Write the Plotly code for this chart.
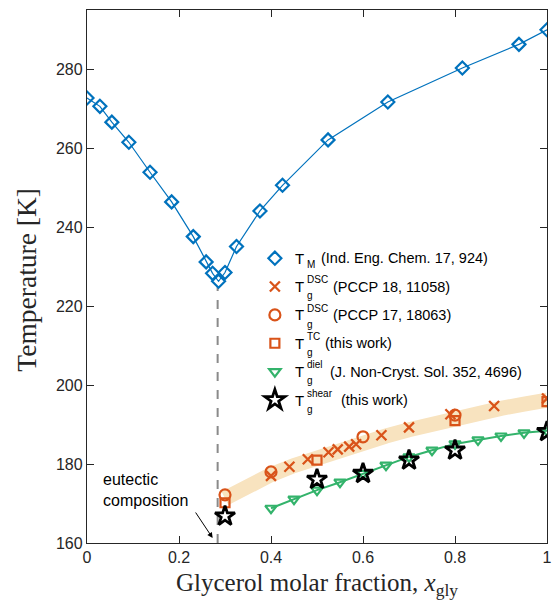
import plotly.graph_objects as go

# Melting temperature (liquidus) of the water-glycerol mixture
tm_x = [0.0, 0.028, 0.054, 0.091, 0.137, 0.184, 0.231, 0.259, 0.273, 0.286,
        0.300, 0.325, 0.376, 0.425, 0.524, 0.654, 0.816, 0.939, 1.0]
tm_T = [272.7, 270.6, 266.6, 261.5, 253.9, 246.4, 237.6, 231.2, 228.3, 226.3,
        228.5, 235.1, 244.1, 250.6, 262.1, 271.7, 280.3, 286.3, 290.0]

# Glass transition temperatures from different methods
dsc1_x = [0.40, 0.44, 0.48, 0.525, 0.545, 0.57, 0.585, 0.64, 0.70, 0.79, 0.885, 1.0]
dsc1_T = [177.0, 179.3, 181.2, 183.0, 183.7, 184.4, 185.0, 187.3, 189.3, 192.6, 194.7, 196.6]

dsc2_x = [0.30, 0.40, 0.60, 0.80]
dsc2_T = [172.2, 178.0, 186.9, 192.4]

tc_x = [0.30, 0.50, 0.80, 1.0]
tc_T = [170.2, 181.0, 191.0, 195.8]

diel_x = [0.40, 0.45, 0.50, 0.55, 0.60, 0.65, 0.70, 0.75, 0.80, 0.85, 0.90, 0.95, 1.0]
diel_T = [168.8, 171.1, 173.4, 175.4, 177.6, 179.7, 181.8, 183.5, 185.1, 186.1, 187.1, 187.9, 188.4]

shear_x = [0.30, 0.50, 0.60, 0.70, 0.80, 1.0]
shear_T = [166.8, 176.1, 177.6, 181.0, 183.5, 188.2]

# Guide band through the calorimetric Tg values
band_x = [0.30, 0.35, 0.40, 0.45, 0.50, 0.55, 0.60, 0.65, 0.70, 0.75, 0.80, 0.85, 0.90, 0.95, 1.0]
band_T = [171.3, 174.6, 177.3, 179.6, 181.7, 183.6, 185.4, 187.1, 188.7, 190.2, 191.6, 192.9, 194.1, 195.2, 196.2]

# Eutectic composition
eutectic_x = 0.284
eutectic_T = [160.0, 225.0]

x_ticks = [0, 0.2, 0.4, 0.6, 0.8, 1.0]
x_ticklabels = ["0", "0.2", "0.4", "0.6", "0.8", "1"]
y_ticks = [160, 180, 200, 220, 240, 260, 280]

BLUE = "#0072BD"
ORANGE = "#D95319"
GREEN = "#33B36B"
BAND = "#F8E3BF"
AXC = "#262626"

W, H = 555, 600
ML, MR, MT, MB = 87, 3, 10, 57
PW, PH = W - ML - MR, H - MT - MB


def fx(px):
    return (px - ML) / PW


def fy(py):
    return (H - MB - py) / PH


fig = go.Figure()

# connecting lines and guides (not in legend)
fig.add_trace(go.Scatter(x=band_x, y=band_T, mode="lines",
                         line=dict(color=BAND, width=15), showlegend=False,
                         hoverinfo="skip"))
fig.add_trace(go.Scatter(x=[eutectic_x, eutectic_x], y=eutectic_T, mode="lines",
                         line=dict(color="#8A8A8A", width=2, dash="dash"),
                         showlegend=False, hoverinfo="skip"))
fig.add_trace(go.Scatter(x=tm_x, y=tm_T, mode="lines", showlegend=False,
                         line=dict(color=BLUE, width=1.2), hoverinfo="skip"))
fig.add_trace(go.Scatter(x=diel_x, y=diel_T, mode="lines", showlegend=False,
                         line=dict(color=GREEN, width=2), hoverinfo="skip"))

# data markers
fig.add_trace(go.Scatter(x=tm_x, y=tm_T, mode="markers", name="",
                         marker=dict(symbol="diamond-open", size=10, color=BLUE,
                                     line=dict(color=BLUE, width=2.2))))
fig.add_trace(go.Scatter(x=dsc1_x, y=dsc1_T, mode="markers", name="",
                         marker=dict(symbol="x-thin-open", size=10, color=ORANGE,
                                     line=dict(color=ORANGE, width=2.3))))
fig.add_trace(go.Scatter(x=dsc2_x, y=dsc2_T, mode="markers", name="",
                         marker=dict(symbol="circle-open", size=11, color=ORANGE,
                                     line=dict(color=ORANGE, width=2.2))))
fig.add_trace(go.Scatter(x=tc_x, y=tc_T, mode="markers", name="",
                         marker=dict(symbol="square-open", size=9, color=ORANGE,
                                     line=dict(color=ORANGE, width=2.2))))
fig.add_trace(go.Scatter(x=diel_x, y=diel_T, mode="markers", name="",
                         marker=dict(symbol="triangle-down-open", size=10, color=GREEN,
                                     line=dict(color=GREEN, width=2.2))))
fig.add_trace(go.Scatter(x=shear_x, y=shear_T, mode="markers", name="",
                         marker=dict(symbol="star-open", size=15, color="black",
                                     line=dict(color="black", width=2.8))))

# Legend entries: "T" with stacked sub/superscripts followed by the source
rows_y = [258.3, 286.7, 315.0, 343.3, 371.7, 400.0]
legend_sup = ["", "DSC", "DSC", "TC", "diel", "shear"]
legend_sub = ["M", "g", "g", "g", "g", "g"]
legend_ref = ["(Ind. Eng. Chem. 17, 924)", "(PCCP 18, 11058)", "(PCCP 17, 18063)",
              "(this work)", "(J. Non-Cryst. Sol. 352, 4696)", "(this work)"]
ref_x = [321.7, 334.0, 334.0, 325.7, 330.7, 341.7]

annotations = []
LF = "Liberation Sans, Arial, Helvetica, sans-serif"
for i, ry in enumerate(rows_y):
    annotations.append(dict(xref="paper", yref="paper", x=fx(295.5), y=fy(ry),
                            xanchor="left", yanchor="middle", showarrow=False,
                            text="T", font=dict(family=LF, size=15, color="black")))
    if legend_sup[i]:
        annotations.append(dict(xref="paper", yref="paper", x=fx(307.5), y=fy(ry - 7),
                                xanchor="left", yanchor="middle", showarrow=False,
                                text=legend_sup[i], font=dict(family=LF, size=10, color="black")))
        sub_dy = 9
    else:
        sub_dy = 6
    annotations.append(dict(xref="paper", yref="paper", x=fx(307.5), y=fy(ry + sub_dy),
                            xanchor="left", yanchor="middle", showarrow=False,
                            text=legend_sub[i], font=dict(family=LF, size=10, color="black")))
    annotations.append(dict(xref="paper", yref="paper", x=fx(ref_x[i]), y=fy(ry),
                            xanchor="left", yanchor="middle", showarrow=False,
                            text=legend_ref[i], font=dict(family=LF, size=14.5, color="black")))

# Eutectic label and arrow
annotations.append(dict(xref="paper", yref="paper", x=fx(101), y=fy(490),
                        xanchor="left", yanchor="middle", showarrow=False, align="left",
                        text="eutectic<br>composition",
                        font=dict(family=LF, size=16, color="black")))
annotations.append(dict(xref="paper", yref="paper", x=fx(214), y=fy(538),
                        axref="pixel", ayref="pixel", ax=-18, ay=-27,
                        showarrow=True, arrowhead=2, arrowsize=1.1, arrowwidth=1,
                        arrowcolor="black", text=""))

# Axis titles
SERIF = "Liberation Serif, Times New Roman, serif"
annotations.append(dict(xref="paper", yref="paper", x=fx(319), y=fy(584),
                        xanchor="center", yanchor="middle", showarrow=False,
                        text="Glycerol molar fraction, <i>x</i><sub>gly</sub>",
                        font=dict(family=SERIF, size=25, color=AXC)))
annotations.append(dict(xref="paper", yref="paper", x=fx(25), y=fy(280),
                        xanchor="center", yanchor="middle", showarrow=False,
                        textangle=-90, text="Temperature [K]",
                        font=dict(family=SERIF, size=27.5, color=AXC)))

fig.update_layout(
    width=W, height=H,
    margin=dict(l=ML, r=MR, t=MT, b=MB),
    paper_bgcolor="white", plot_bgcolor="white",
    showlegend=True,
    legend=dict(x=fx(256.7), y=fy(239), xanchor="left", yanchor="top",
                bgcolor="rgba(0,0,0,0)", borderwidth=0,
                font=dict(family=LF, size=19.5)),
    annotations=annotations,
    xaxis=dict(range=[0, 1], tickvals=x_ticks, ticktext=x_ticklabels,
               showgrid=False, zeroline=False, showline=True, linecolor=AXC,
               linewidth=1.3, mirror="ticks", ticks="inside", ticklen=7,
               tickcolor=AXC, tickwidth=1.3, ticklabeloverflow="allow",
               tickfont=dict(family=LF, size=16, color=AXC)),
    yaxis=dict(range=[160, 295], tickvals=y_ticks,
               showgrid=False, zeroline=False, showline=True, linecolor=AXC,
               linewidth=1.3, mirror="ticks", ticks="inside", ticklen=7,
               tickcolor=AXC, tickwidth=1.3,
               tickfont=dict(family=LF, size=16, color=AXC)),
)

fig.write_html("out.html")
